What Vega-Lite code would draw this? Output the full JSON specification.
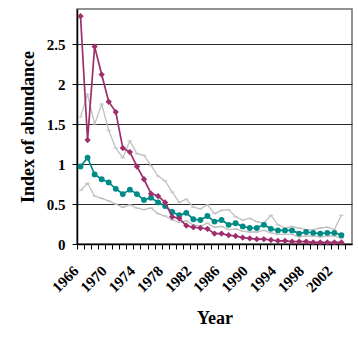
{
  "$schema": "https://vega.github.io/schema/vega-lite/v6.json",
  "autosize": {"type": "none"},
  "padding": {"left": 77, "top": 9, "right": 6, "bottom": 98},
  "width": 275,
  "height": 235,
  "background": "white",
  "config": {
    "font": "Liberation Serif",
    "view": {"stroke": "#6f6f6f", "strokeWidth": 1.5},
    "axis": {"labelFont": "Liberation Serif", "titleFont": "Liberation Serif", "labelFontWeight": "bold", "titleFontWeight": "bold", "labelColor": "black", "titleColor": "black", "domainColor": "black", "domainWidth": 1.5, "tickColor": "black", "labelFontSize": 15, "titleFontSize": 18}
  },
  "datasets": {
    "d": [
      {"year":1966,"s":"pink","v":2.85},{"year":1967,"s":"pink","v":1.30},{"year":1968,"s":"pink","v":2.47},{"year":1969,"s":"pink","v":2.12},{"year":1970,"s":"pink","v":1.78},{"year":1971,"s":"pink","v":1.65},{"year":1972,"s":"pink","v":1.20},{"year":1973,"s":"pink","v":1.15},{"year":1974,"s":"pink","v":0.97},{"year":1975,"s":"pink","v":0.81},{"year":1976,"s":"pink","v":0.63},{"year":1977,"s":"pink","v":0.60},{"year":1978,"s":"pink","v":0.52},{"year":1979,"s":"pink","v":0.34},{"year":1980,"s":"pink","v":0.32},{"year":1981,"s":"pink","v":0.23},{"year":1982,"s":"pink","v":0.21},{"year":1983,"s":"pink","v":0.20},{"year":1984,"s":"pink","v":0.19},{"year":1985,"s":"pink","v":0.13},{"year":1986,"s":"pink","v":0.13},{"year":1987,"s":"pink","v":0.11},{"year":1988,"s":"pink","v":0.10},{"year":1989,"s":"pink","v":0.08},{"year":1990,"s":"pink","v":0.07},{"year":1991,"s":"pink","v":0.06},{"year":1992,"s":"pink","v":0.06},{"year":1993,"s":"pink","v":0.05},{"year":1994,"s":"pink","v":0.04},{"year":1995,"s":"pink","v":0.04},{"year":1996,"s":"pink","v":0.03},{"year":1997,"s":"pink","v":0.03},{"year":1998,"s":"pink","v":0.03},{"year":1999,"s":"pink","v":0.02},{"year":2000,"s":"pink","v":0.02},{"year":2001,"s":"pink","v":0.02},{"year":2002,"s":"pink","v":0.02},{"year":2003,"s":"pink","v":0.02},
      {"year":1966,"s":"teal","v":0.97},{"year":1967,"s":"teal","v":1.08},{"year":1968,"s":"teal","v":0.87},{"year":1969,"s":"teal","v":0.81},{"year":1970,"s":"teal","v":0.77},{"year":1971,"s":"teal","v":0.69},{"year":1972,"s":"teal","v":0.625},{"year":1973,"s":"teal","v":0.68},{"year":1974,"s":"teal","v":0.625},{"year":1975,"s":"teal","v":0.55},{"year":1976,"s":"teal","v":0.58},{"year":1977,"s":"teal","v":0.52},{"year":1978,"s":"teal","v":0.475},{"year":1979,"s":"teal","v":0.40},{"year":1980,"s":"teal","v":0.36},{"year":1981,"s":"teal","v":0.39},{"year":1982,"s":"teal","v":0.31},{"year":1983,"s":"teal","v":0.30},{"year":1984,"s":"teal","v":0.35},{"year":1985,"s":"teal","v":0.28},{"year":1986,"s":"teal","v":0.30},{"year":1987,"s":"teal","v":0.24},{"year":1988,"s":"teal","v":0.26},{"year":1989,"s":"teal","v":0.22},{"year":1990,"s":"teal","v":0.20},{"year":1991,"s":"teal","v":0.20},{"year":1992,"s":"teal","v":0.24},{"year":1993,"s":"teal","v":0.19},{"year":1994,"s":"teal","v":0.17},{"year":1995,"s":"teal","v":0.17},{"year":1996,"s":"teal","v":0.17},{"year":1997,"s":"teal","v":0.13},{"year":1998,"s":"teal","v":0.15},{"year":1999,"s":"teal","v":0.14},{"year":2000,"s":"teal","v":0.13},{"year":2001,"s":"teal","v":0.14},{"year":2002,"s":"teal","v":0.14},{"year":2003,"s":"teal","v":0.11},
      {"year":1966,"s":"upper","v":1.59},{"year":1967,"s":"upper","v":1.87},{"year":1968,"s":"upper","v":1.50},{"year":1969,"s":"upper","v":1.75},{"year":1970,"s":"upper","v":1.42},{"year":1971,"s":"upper","v":1.20},{"year":1972,"s":"upper","v":1.08},{"year":1973,"s":"upper","v":1.29},{"year":1974,"s":"upper","v":1.13},{"year":1975,"s":"upper","v":1.11},{"year":1976,"s":"upper","v":0.98},{"year":1977,"s":"upper","v":0.85},{"year":1978,"s":"upper","v":0.79},{"year":1979,"s":"upper","v":0.65},{"year":1980,"s":"upper","v":0.52},{"year":1981,"s":"upper","v":0.56},{"year":1982,"s":"upper","v":0.46},{"year":1983,"s":"upper","v":0.44},{"year":1984,"s":"upper","v":0.49},{"year":1985,"s":"upper","v":0.38},{"year":1986,"s":"upper","v":0.42},{"year":1987,"s":"upper","v":0.43},{"year":1988,"s":"upper","v":0.34},{"year":1989,"s":"upper","v":0.30},{"year":1990,"s":"upper","v":0.32},{"year":1991,"s":"upper","v":0.28},{"year":1992,"s":"upper","v":0.26},{"year":1993,"s":"upper","v":0.36},{"year":1994,"s":"upper","v":0.24},{"year":1995,"s":"upper","v":0.20},{"year":1996,"s":"upper","v":0.22},{"year":1997,"s":"upper","v":0.20},{"year":1998,"s":"upper","v":0.18},{"year":1999,"s":"upper","v":0.18},{"year":2000,"s":"upper","v":0.20},{"year":2001,"s":"upper","v":0.21},{"year":2002,"s":"upper","v":0.18},{"year":2003,"s":"upper","v":0.36},
      {"year":1966,"s":"lower","v":0.67},{"year":1967,"s":"lower","v":0.76},{"year":1968,"s":"lower","v":0.60},{"year":1969,"s":"lower","v":0.57},{"year":1970,"s":"lower","v":0.54},{"year":1971,"s":"lower","v":0.50},{"year":1972,"s":"lower","v":0.46},{"year":1973,"s":"lower","v":0.49},{"year":1974,"s":"lower","v":0.45},{"year":1975,"s":"lower","v":0.43},{"year":1976,"s":"lower","v":0.45},{"year":1977,"s":"lower","v":0.38},{"year":1978,"s":"lower","v":0.35},{"year":1979,"s":"lower","v":0.30},{"year":1980,"s":"lower","v":0.27},{"year":1981,"s":"lower","v":0.29},{"year":1982,"s":"lower","v":0.24},{"year":1983,"s":"lower","v":0.225},{"year":1984,"s":"lower","v":0.26},{"year":1985,"s":"lower","v":0.21},{"year":1986,"s":"lower","v":0.22},{"year":1987,"s":"lower","v":0.18},{"year":1988,"s":"lower","v":0.19},{"year":1989,"s":"lower","v":0.16},{"year":1990,"s":"lower","v":0.15},{"year":1991,"s":"lower","v":0.15},{"year":1992,"s":"lower","v":0.17},{"year":1993,"s":"lower","v":0.14},{"year":1994,"s":"lower","v":0.12},{"year":1995,"s":"lower","v":0.12},{"year":1996,"s":"lower","v":0.12},{"year":1997,"s":"lower","v":0.09},{"year":1998,"s":"lower","v":0.10},{"year":1999,"s":"lower","v":0.10},{"year":2000,"s":"lower","v":0.09},{"year":2001,"s":"lower","v":0.10},{"year":2002,"s":"lower","v":0.10},{"year":2003,"s":"lower","v":0.07}
    ]
  },
  "data": {"name": "d"},
  "encoding": {
    "x": {"field": "year", "type": "quantitative",
      "scale": {"domain": [1965.5, 2004.5], "nice": false, "zero": false},
      "axis": {"title": "Year", "grid": false, "tickSize": 5,
        "values": [1965.5,1966.5,1967.5,1968.5,1969.5,1970.5,1971.5,1972.5,1973.5,1974.5,1975.5,1976.5,1977.5,1978.5,1979.5,1980.5,1981.5,1982.5,1983.5,1984.5,1985.5,1986.5,1987.5,1988.5,1989.5,1990.5,1991.5,1992.5,1993.5,1994.5,1995.5,1996.5,1997.5,1998.5,1999.5,2000.5,2001.5,2002.5,2003.5],
        "labelExpr": "(datum.value + 0.5 - 1966) % 4 == 0 ? format(datum.value + 0.5, 'd') : ''",
        "labelAngle": -45, "labelAlign": "right", "labelBaseline": "middle", "labelOffset": -1.5,
        "labelPadding": 19, "labelOverlap": false, "labelFlush": false, "labelBound": false,
        "titlePadding": 15}},
    "y": {"field": "v", "type": "quantitative",
      "scale": {"domain": [0, 2.94], "nice": false},
      "axis": {"title": "Index of abundance", "values": [0, 0.5, 1, 1.5, 2, 2.5], "format": ".1~f",
        "grid": true, "gridColor": "#2a2a2a", "gridWidth": 1.2, "tickSize": 5, "labelPadding": 7, "titlePadding": 9}},
    "color": {"field": "s", "type": "nominal", "legend": null,
      "scale": {"domain": ["pink", "teal", "upper", "lower"], "range": ["#9e2f6c", "#008b87", "#c0c0c0", "#c0c0c0"]}}
  },
  "layer": [
    {"transform": [{"filter": "datum.s == 'upper' || datum.s == 'lower'"}], "mark": {"type": "line", "strokeWidth": 1.3}, "encoding": {"detail": {"field": "s"}}},
    {"transform": [{"filter": "datum.s == 'upper' || datum.s == 'lower'"}], "mark": {"type": "point", "shape": "stroke", "size": 22, "strokeWidth": 1.3}},
    {"transform": [{"filter": "datum.s == 'teal'"}], "mark": {"type": "line", "strokeWidth": 1.7}},
    {"transform": [{"filter": "datum.s == 'teal'"}], "mark": {"type": "point", "shape": "circle", "filled": true, "size": 34, "opacity": 1}},
    {"transform": [{"filter": "datum.s == 'pink'"}], "mark": {"type": "line", "strokeWidth": 1.7}},
    {"transform": [{"filter": "datum.s == 'pink'"}], "mark": {"type": "point", "shape": "diamond", "filled": true, "size": 40, "opacity": 1}}
  ]
}
